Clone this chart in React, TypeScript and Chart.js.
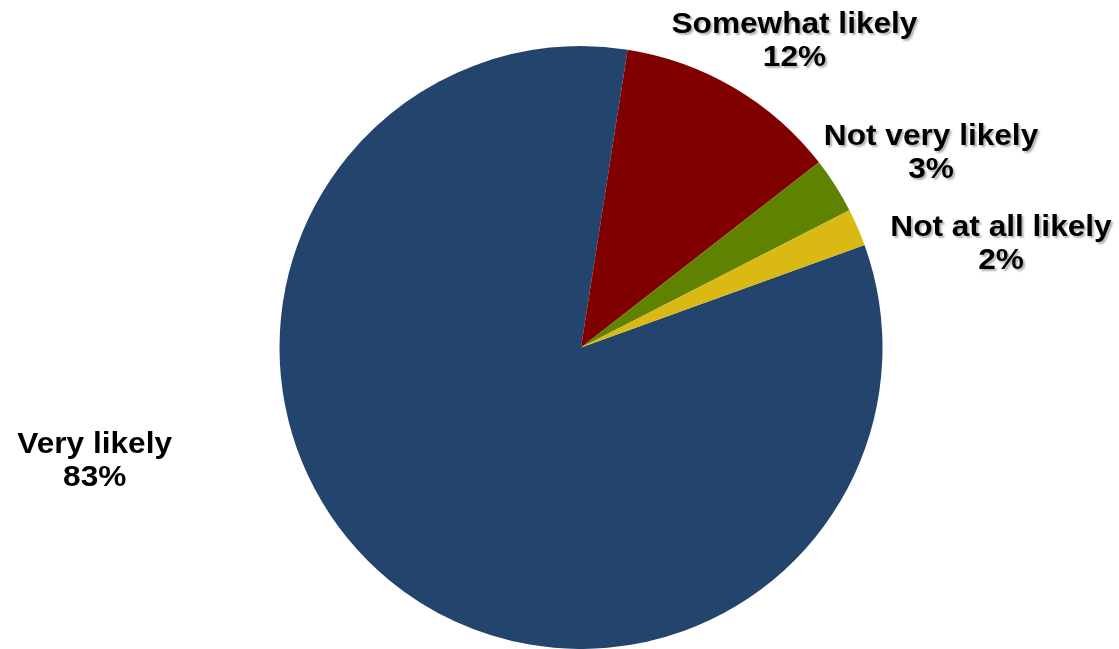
import React, { useEffect, useRef } from "react";
import { Chart, registerables } from "chart.js";

Chart.register(...registerables);

const categories = ["Very likely", "Somewhat likely", "Not very likely", "Not at all likely"];
const shares = [83, 12, 3, 2];
const percentLabels = ["83%", "12%", "3%", "2%"];
const sliceColors = ["#22446D", "#800000", "#5F8200", "#DBB915"];

// label block centres, in units of the pie radius, measured from the pie centre
const labelOffsets = [
  { fx: -1.613, fy: 0.378, shadow: false },
  { fx: 0.708, fy: -1.015, shadow: true },
  { fx: 1.161, fy: -0.645, shadow: true },
  { fx: 1.393, fy: -0.34, shadow: true },
];

const labelPlugin = {
  id: "outsideLabels",
  afterDatasetsDraw(chart: any) {
    const meta = chart.getDatasetMeta(0);
    const ctx = chart.ctx as CanvasRenderingContext2D;
    meta.data.forEach((arc: any, i: number) => {
      const { x, y, outerRadius } = arc.getProps(["x", "y", "outerRadius"], true);
      const off = labelOffsets[i];
      const cx = x + off.fx * outerRadius;
      const cy = y + off.fy * outerRadius;
      ctx.save();
      ctx.font = "bold 29px 'Liberation Sans', Arial, sans-serif";
      ctx.textAlign = "center";
      ctx.textBaseline = "middle";
      ctx.fillStyle = "#000000";
      if (off.shadow) {
        ctx.shadowColor = "rgba(0,0,0,0.3)";
        ctx.shadowOffsetX = 2;
        ctx.shadowOffsetY = 2;
        ctx.shadowBlur = 2;
      }
      ctx.translate(cx, cy);
      ctx.scale(1.09, 1);
      ctx.fillText(categories[i], 0, -16.5);
      ctx.fillText(percentLabels[i], 0, 16.5);
      ctx.restore();
    });
  },
};

export default function App() {
  const ref = useRef<HTMLCanvasElement>(null);
  useEffect(() => {
    document.body.style.margin = "0";
    const chart = new Chart(ref.current!, {
      type: "pie",
      data: {
        labels: categories,
        datasets: [
          {
            data: shares,
            backgroundColor: sliceColors,
            borderWidth: 0,
          },
        ],
      },
      options: {
        animation: false,
        responsive: false,
        rotation: 70.1,
        layout: { padding: { top: 46, left: 43, right: 0, bottom: 0 } },
        plugins: {
          legend: { display: false },
          tooltip: { enabled: false },
        },
      },
      plugins: [labelPlugin],
    });
    return () => chart.destroy();
  }, []);
  return (
    <div style={{ position: "fixed", left: 0, top: 0, width: 1119, height: 649, background: "#fff" }}>
      <canvas ref={ref} width={1119} height={649} />
    </div>
  );
}
